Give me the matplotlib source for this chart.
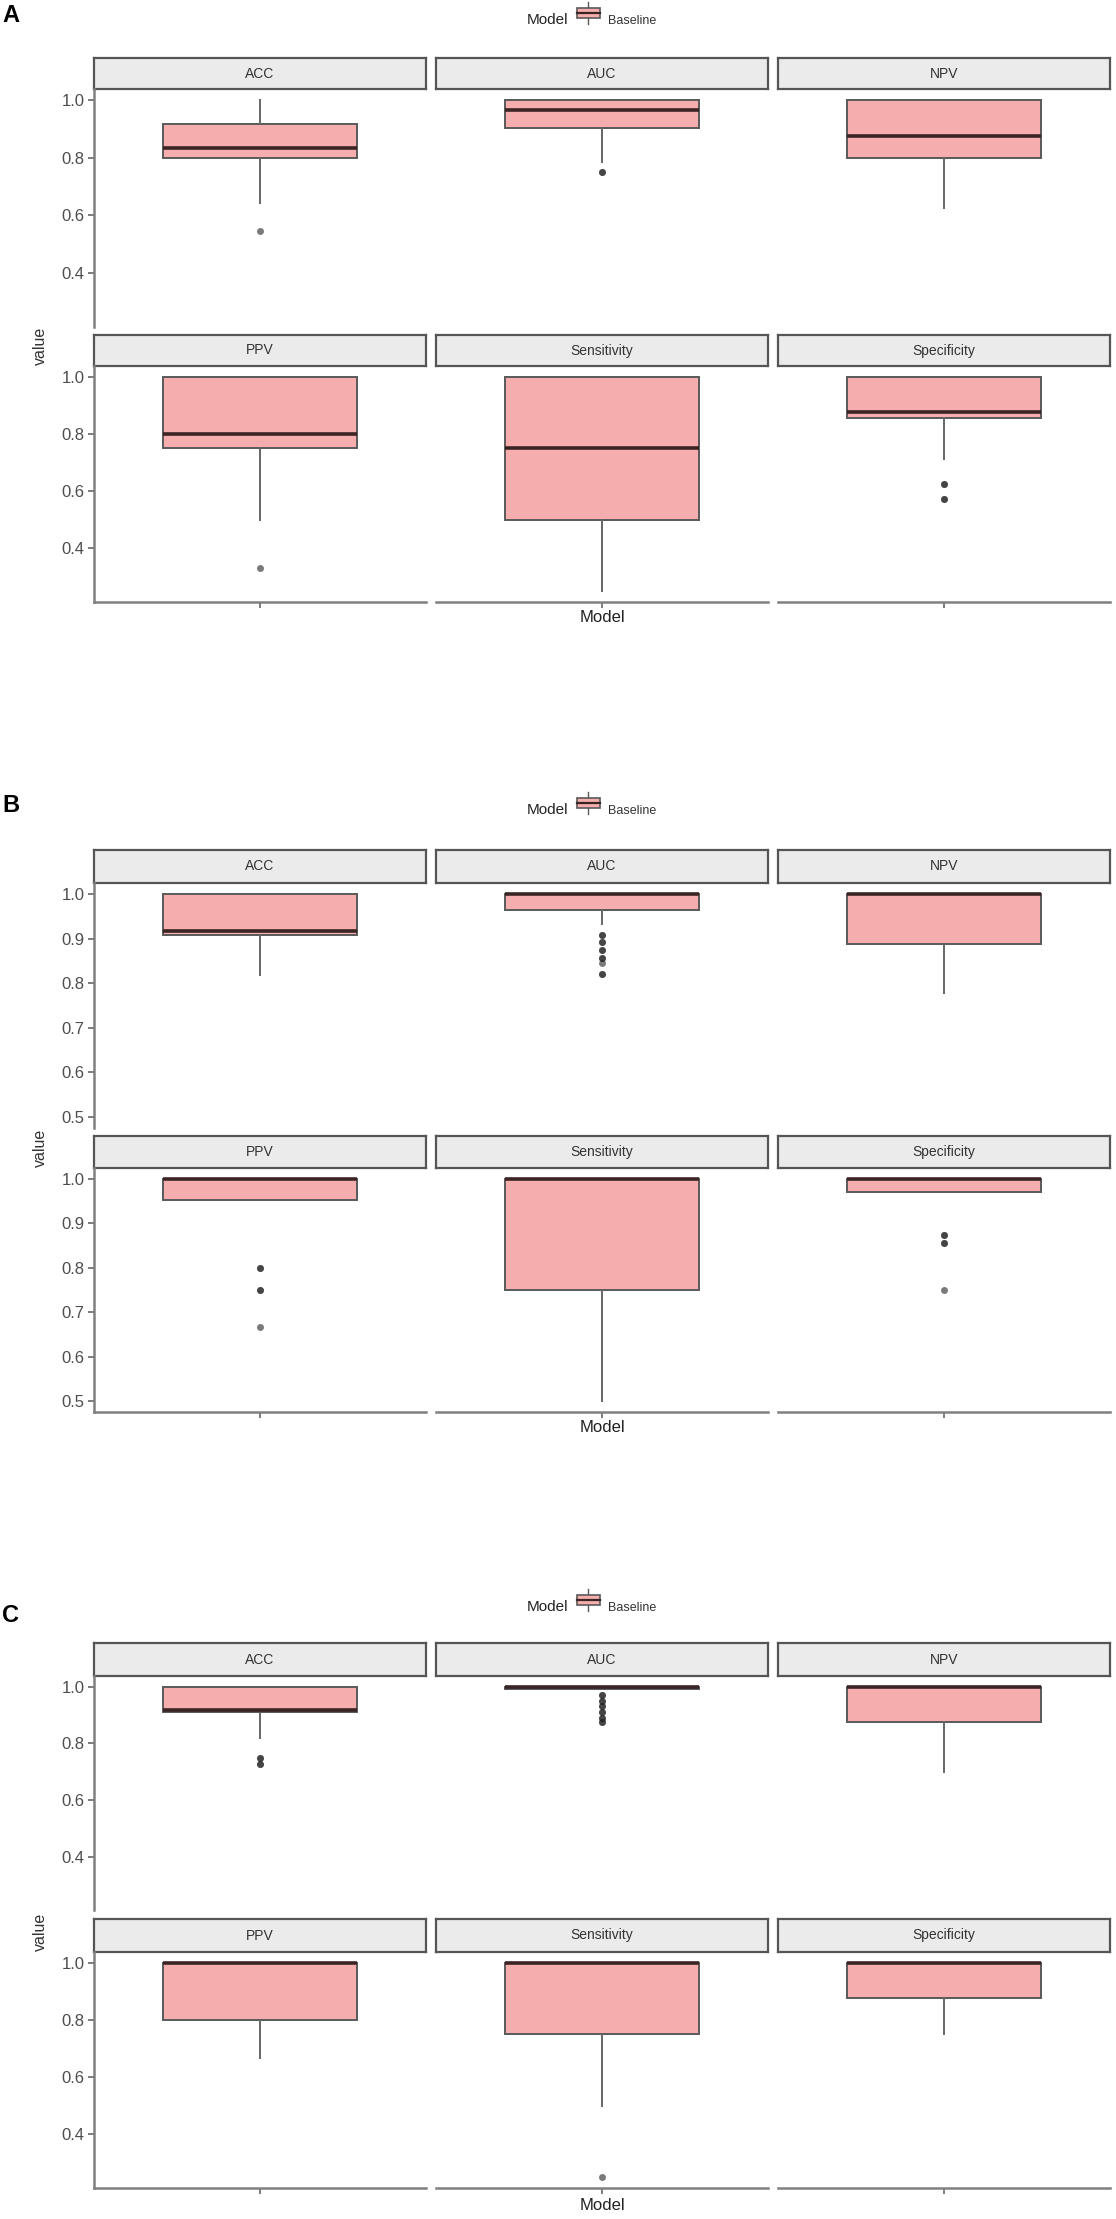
import numpy as np
import matplotlib.pyplot as plt
from matplotlib.patches import Rectangle, Patch
from matplotlib.lines import Line2D
from matplotlib.legend_handler import HandlerBase

plt.rcParams['font.family'] = ['Liberation Sans', 'DejaVu Sans']

metrics = ["ACC", "AUC", "NPV", "PPV", "Sensitivity", "Specificity"]

# panel A
A_q1 = [0.800, 0.903, 0.800, 0.750, 0.500, 0.857]
A_med = [0.833, 0.966, 0.875, 0.800, 0.750, 0.875]
A_q3 = [0.917, 1.000, 1.000, 1.000, 1.000, 1.000]
A_lo = [0.643, 0.786, 0.625, 0.500, 0.250, 0.714]
A_hi = [1.000, 1.000, 1.000, 1.000, 1.000, 1.000]
A_out = [[0.545], [0.75, 0.75], [], [0.333], [], [0.625, 0.625, 0.571, 0.571]]

# panel B
B_q1 = [0.909, 0.964, 0.889, 0.952, 0.750, 0.971]
B_med = [0.917, 1.000, 1.000, 1.000, 1.000, 1.000]
B_q3 = [1.000, 1.000, 1.000, 1.000, 1.000, 1.000]
B_lo = [0.818, 0.933, 0.778, 0.952, 0.500, 0.971]
B_hi = [1.000, 1.000, 1.000, 1.000, 1.000, 1.000]
B_out = [[], [0.909, 0.909, 0.893, 0.893, 0.875, 0.875, 0.857, 0.857, 0.846, 0.821, 0.821],
         [], [0.8, 0.8, 0.75, 0.75, 0.667], [], [0.875, 0.875, 0.857, 0.857, 0.75]]

# panel C
C_q1 = [0.909, 0.990, 0.875, 0.800, 0.750, 0.875]
C_med = [0.917, 1.000, 1.000, 1.000, 1.000, 1.000]
C_q3 = [1.000, 1.000, 1.000, 1.000, 1.000, 1.000]
C_lo = [0.818, 0.990, 0.700, 0.667, 0.500, 0.750]
C_hi = [1.000, 1.000, 1.000, 1.000, 1.000, 1.000]
C_out = [[0.75, 0.75, 0.727, 0.727],
         [0.97, 0.97, 0.95, 0.95, 0.93, 0.93, 0.91, 0.91, 0.89, 0.89, 0.875, 0.875],
         [], [], [0.25], []]

fill = '#F5AEAD'
edge = '#595959'
med_c = '#3A2424'

W, H = 1116, 2219
fig = plt.figure(figsize=(W / 100, H / 100), dpi=100)


def add_px(x0, y0, x1, y1):
    return fig.add_axes([x0 / W, 1 - y1 / H, (x1 - x0) / W, (y1 - y0) / H])


class BoxHandler(HandlerBase):
    # small boxplot glyph for the legend key
    def create_artists(self, legend, orig, xd, yd, width, height, fontsize, trans):
        cx = xd + width / 2
        w1 = Line2D([cx, cx], [yd - height * 0.2, yd + height * 0.15], color=edge, lw=1, transform=trans)
        w2 = Line2D([cx, cx], [yd + height * 0.85, yd + height * 1.2], color=edge, lw=1, transform=trans)
        r = Rectangle((xd, yd + height * 0.15), width, height * 0.7, fc=fill, ec=edge, lw=1.2, transform=trans)
        m = Line2D([xd, xd + width], [yd + height / 2] * 2, color=med_c, lw=1.6, transform=trans)
        return [w1, w2, r, m]


cols = [(94, 426), (436, 768), (778, 1110)]

panels = [
    dict(letter='A', q1=A_q1, med=A_med, q3=A_q3, lo=A_lo, hi=A_hi, out=A_out,
         ylim=(0.2125, 1.0375), ticks=[0.4, 0.6, 0.8, 1.0],
         rows=[(58, 89, 327), (335, 366, 602)], xlab=617, let_y=15, leg_y=20),
    dict(letter='B', q1=B_q1, med=B_med, q3=B_q3, lo=B_lo, hi=B_hi, out=B_out,
         ylim=(0.475, 1.025), ticks=[0.5, 0.6, 0.7, 0.8, 0.9, 1.0],
         rows=[(850, 883, 1128), (1136, 1168, 1412)], xlab=1428, let_y=805, leg_y=810),
    dict(letter='C', q1=C_q1, med=C_med, q3=C_q3, lo=C_lo, hi=C_hi, out=C_out,
         ylim=(0.2125, 1.0375), ticks=[0.4, 0.6, 0.8, 1.0],
         rows=[(1643, 1676, 1910), (1919, 1952, 2188)], xlab=2205, let_y=1615, leg_y=1607),
]

for p in panels:
    for i, m in enumerate(metrics):
        r, c = i // 3, i % 3
        s_top, s_bot, bot = p['rows'][r]
        x0, x1 = cols[c]

        sax = add_px(x0, s_top, x1, s_bot)
        sax.set_facecolor('#EBEBEB')
        sax.set_xticks([])
        sax.set_yticks([])
        for sp in sax.spines.values():
            sp.set_color('#555555')
            sp.set_linewidth(1.6)
        sax.text(0.5, 0.5, m, ha='center', va='center', fontsize=10, color='#333333',
                 transform=sax.transAxes)

        ax = add_px(x0, s_bot, x1, bot)
        stats = [dict(med=p['med'][i], q1=p['q1'][i], q3=p['q3'][i],
                      whislo=p['lo'][i], whishi=p['hi'][i], fliers=p['out'][i])]
        ax.bxp(stats, positions=[0], widths=0.7, patch_artist=True, showcaps=False,
               boxprops=dict(facecolor=fill, edgecolor=edge, linewidth=1.4),
               medianprops=dict(color=med_c, linewidth=2.6, solid_capstyle='butt'),
               whiskerprops=dict(color='#666666', linewidth=1.4),
               flierprops=dict(marker='o', markerfacecolor='#222222', markeredgecolor='none',
                               markersize=5, alpha=0.6))
        ax.set_xlim(-0.6, 0.6)
        ax.set_ylim(*p['ylim'])
        ax.set_facecolor('none')
        for s in ['top', 'right']:
            ax.spines[s].set_visible(False)
        ax.spines['left'].set_visible(c == 0)
        ax.spines['bottom'].set_visible(r == 1)
        for s in ['left', 'bottom']:
            ax.spines[s].set_color('#808080')
            ax.spines[s].set_linewidth(1.8)
        if c == 0:
            ax.set_yticks(p['ticks'])
            ax.set_yticklabels([f'{t:.1f}' for t in p['ticks']])
            ax.tick_params(axis='y', length=4, width=1.2, color='#666666',
                           labelsize=12, labelcolor='#4D4D4D', pad=3)
        else:
            ax.set_yticks([])
        if r == 1:
            ax.set_xticks([0])
            ax.set_xticklabels([''])
            ax.tick_params(axis='x', length=4, width=1.2, color='#666666')
        else:
            ax.set_xticks([])

    top = p['rows'][0][1]
    bottom = p['rows'][1][2]
    fig.text(40 / W, 1 - (top + bottom) / 2 / H, 'value', rotation=90, ha='center', va='center',
             fontsize=11.5, color='#333333')
    fig.text(602 / W, 1 - p['xlab'] / H, 'Model', ha='center', va='center', fontsize=12,
             color='#222222')
    fig.text(2 / W, 1 - p['let_y'] / H, p['letter'], ha='left', va='center', fontsize=17,
             fontweight='bold', color='black')
    fig.text(568 / W, 1 - p['leg_y'] / H, 'Model', ha='right', va='center', fontsize=11,
             color='#222222')
    fig.legend(handles=[Patch(facecolor=fill)], labels=['Baseline'], loc='center left',
               bbox_to_anchor=(577 / W, 1 - p['leg_y'] / H), frameon=False, fontsize=9,
               handler_map={Patch: BoxHandler()}, handlelength=1.8, handleheight=1.5,
               handletextpad=0.7, borderpad=0, borderaxespad=0, labelcolor='#333333')

fig.savefig('out.png', dpi=100, facecolor='white')
